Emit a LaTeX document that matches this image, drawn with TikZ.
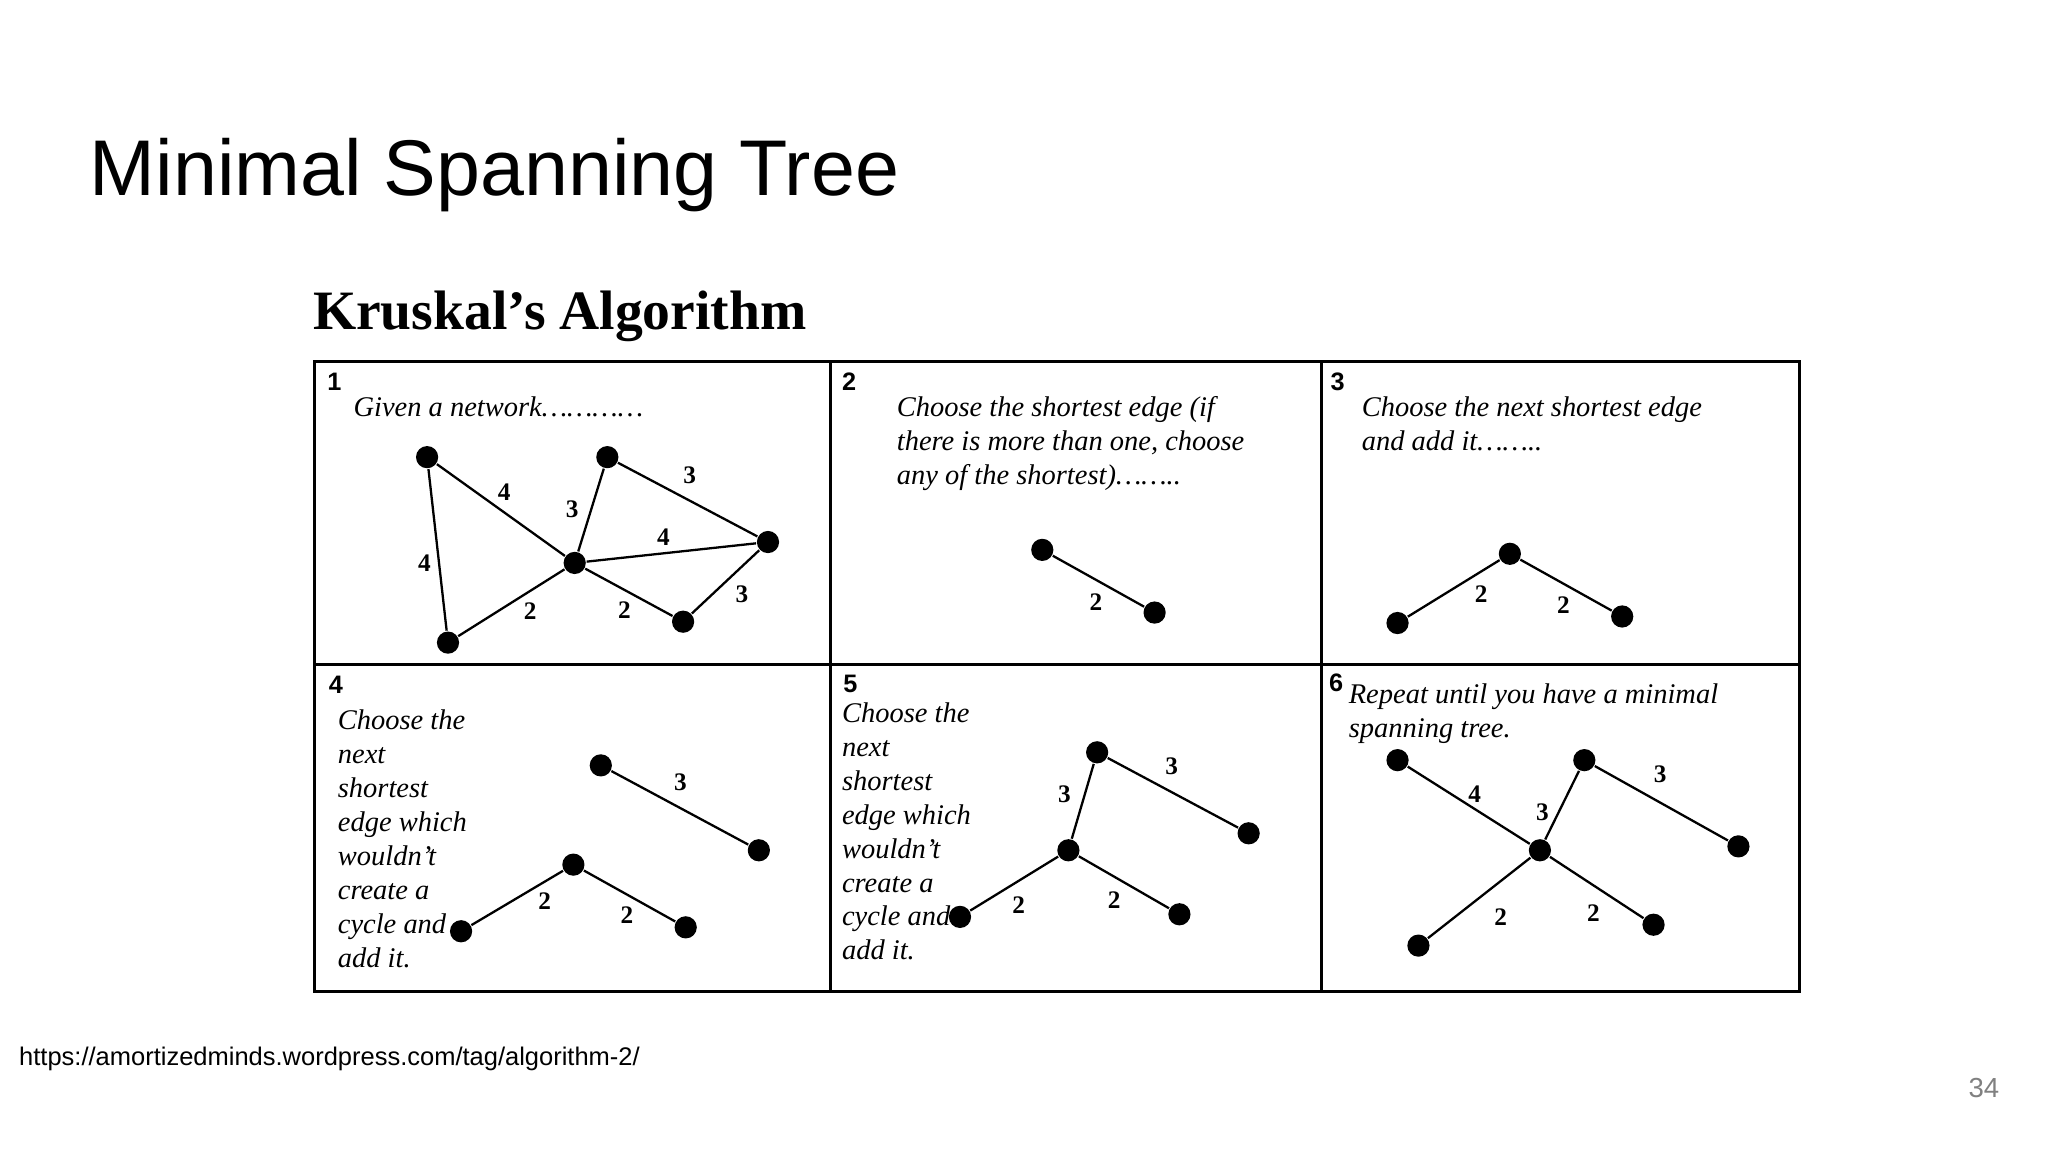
\documentclass[tikz,border=0pt]{standalone}
\usepackage{fontspec}
\setmainfont{Liberation Serif}
\newfontfamily\arialf{Liberation Sans}
\begin{document}
\begin{tikzpicture}[x=0.01cm,y=-0.01cm,
  dot/.style={circle,fill=black,inner sep=0pt,minimum size=0.17cm},
  ed/.style={line width=0.5pt},
  wl/.style={font=\bfseries\fontsize{5.5}{6}\selectfont,inner sep=0pt},
  txt/.style={anchor=north west,align=left,inner sep=0pt,font=\itshape\fontsize{6.2}{7.4}\selectfont},
  num/.style={anchor=north west,inner sep=0pt,font=\arialf\bfseries\fontsize{5.5}{6}\selectfont}]
\useasboundingbox (0,0) rectangle (1568,882);
\node[anchor=base west,inner sep=0pt,font=\arialf\fontsize{17.2}{19}\selectfont] (title) at (68,150) {Minimal Spanning Tree};
\node[anchor=base west,inner sep=0pt,font=\bfseries\fontsize{12.1}{13}\selectfont] (kr) at (239,252) {Kruskal's Algorithm};
\node[anchor=base west,inner sep=0pt,font=\arialf\fontsize{5.55}{6}\selectfont] (url) at (14,816) {https://amortizedminds.wordpress.com/tag/algorithm-2/};
\node[anchor=base,inner sep=0pt,text=gray,font=\arialf\fontsize{6}{7}\selectfont] (pg) at (1519,840) {34};
\draw[line width=0.7pt] (241,277) rectangle (1378,759);
\draw[line width=0.7pt] (636,277) -- (636,759) (1012,277) -- (1012,759) (241,509) -- (1378,509);
% numbers
\node[num] (n1) at (250,285) {1};
\node[num] (n2) at (644,285) {2};
\node[num] (n3) at (1018,285) {3};
\node[num] (n4) at (251,517) {4};
\node[num] (n5) at (645,516) {5};
\node[num] (n6) at (1017,515) {6};
% texts
\node[txt] (t1) at (270,303) {Given a network\dots\dots\dots\dots};
\node[txt] (t2) at (686,303) {Choose the shortest edge (if\\there is more than one, choose\\any of the shortest)\dots\dots..};
\node[txt] (t3) at (1042,303) {Choose the next shortest edge\\and add it\dots\dots..};
\node[txt] (t4) at (258,543) {Choose the\\next\\shortest\\edge which\\wouldn't\\create a\\cycle and\\add it.};
\node[txt] (t5) at (644,537) {Choose the\\next\\shortest\\edge which\\wouldn't\\create a\\cycle and\\add it.};
\node[txt] (t6) at (1032,523) {Repeat until you have a minimal\\spanning tree.};
% panel 1
\node[dot] (a) at (327,350) {}; \node[dot] (b) at (465,350) {};
\node[dot] (c) at (588,415) {}; \node[dot] (d) at (440,431) {};
\node[dot] (e) at (343,492) {}; \node[dot] (f) at (523,476) {};
\draw[ed] (a)--(d) (a)--(e) (b)--(d) (b)--(c) (d)--(c) (d)--(e) (d)--(f) (f)--(c);
\node[wl] at (386,377) {4}; \node[wl] at (325,431) {4}; \node[wl] at (438,390) {3};
\node[wl] at (528,364) {3}; \node[wl] at (508,411) {4}; \node[wl] at (406,468) {2};
\node[wl] at (478,467) {2}; \node[wl] at (568,455) {3};
% panel 2
\node[dot] (p2a) at (798,421) {}; \node[dot] (p2b) at (884,469) {};
\draw[ed] (p2a)--(p2b); \node[wl] at (839,461) {2};
% panel 3
\node[dot] (p3a) at (1070,477) {}; \node[dot] (p3b) at (1156,424) {}; \node[dot] (p3c) at (1242,472) {};
\draw[ed] (p3a)--(p3b)--(p3c); \node[wl] at (1134,455) {2}; \node[wl] at (1197,463) {2};
% panel 4
\node[dot] (p4a) at (460,586) {}; \node[dot] (p4b) at (581,651) {};
\node[dot] (p4c) at (353,713) {}; \node[dot] (p4d) at (439,662) {}; \node[dot] (p4e) at (525,710) {};
\draw[ed] (p4a)--(p4b) (p4c)--(p4d)--(p4e);
\node[wl] at (521,599) {3}; \node[wl] at (417,690) {2}; \node[wl] at (480,701) {2};
% panel 5
\node[dot] (p5a) at (840,576) {}; \node[dot] (p5b) at (956,638) {}; \node[dot] (p5c) at (818,651) {};
\node[dot] (p5d) at (735,702) {}; \node[dot] (p5e) at (903,700) {};
\draw[ed] (p5a)--(p5b) (p5a)--(p5c) (p5d)--(p5c)--(p5e);
\node[wl] at (897,587) {3}; \node[wl] at (815,608) {3}; \node[wl] at (780,693) {2}; \node[wl] at (853,689) {2};
% panel 6
\node[dot] (p6a) at (1070,582) {}; \node[dot] (p6b) at (1213,582) {}; \node[dot] (p6c) at (1179,651) {};
\node[dot] (p6d) at (1331,648) {}; \node[dot] (p6e) at (1086,724) {}; \node[dot] (p6f) at (1266,708) {};
\draw[ed] (p6a)--(p6c) (p6b)--(p6c) (p6b)--(p6d) (p6e)--(p6c)--(p6f);
\node[wl] at (1129,608) {4}; \node[wl] at (1181,622) {3}; \node[wl] at (1271,593) {3};
\node[wl] at (1149,702) {2}; \node[wl] at (1220,699) {2};
\end{tikzpicture}
\end{document}
